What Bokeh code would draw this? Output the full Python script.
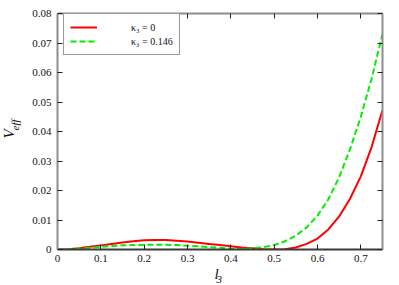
import math
from bokeh.plotting import figure
from bokeh.models import (LinearAxis, FixedTicker, Label, Legend, LegendItem, Range1d)
from bokeh.embed import file_html
from bokeh.resources import INLINE

# ---- data ----
l3 = [0.0, 0.025, 0.05, 0.075, 0.1, 0.125, 0.15, 0.175, 0.2, 0.225, 0.25,
      0.275, 0.3, 0.325, 0.35, 0.375, 0.4, 0.425, 0.45, 0.475, 0.5,
      0.525, 0.55, 0.575, 0.6, 0.625, 0.65, 0.675, 0.7, 0.725, 0.75]
v_kappa0 = [0.0, 0.0001, 0.0004, 0.0009, 0.0014, 0.0019, 0.0024, 0.0028, 0.0031, 0.0032, 0.0032,
            0.0030, 0.0027, 0.0023, 0.0019, 0.0015, 0.0011, 0.0007, 0.0004, 0.0001, 0.0,
            0.0001, 0.0007, 0.0019, 0.0037, 0.0068, 0.0112, 0.0172, 0.0248, 0.0348, 0.0473]
v_kappa146 = [0.0, 0.0001, 0.0003, 0.0006, 0.0009, 0.0012, 0.0014, 0.0015, 0.0016, 0.0016, 0.0016,
              0.0015, 0.0013, 0.0011, 0.0008, 0.0006, 0.0003, 0.0002, 0.0004, 0.0008, 0.0015,
              0.0028, 0.0047, 0.0075, 0.0115, 0.0170, 0.0245, 0.0340, 0.0450, 0.0580, 0.0730]
x_ticks = [0.0, 0.1, 0.2, 0.3, 0.4, 0.5, 0.6, 0.7]
x_tick_labels = ["0", "0.1", "0.2", "0.3", "0.4", "0.5", "0.6", "0.7"]
y_ticks = [0.0, 0.01, 0.02, 0.03, 0.04, 0.05, 0.06, 0.07, 0.08]
y_tick_labels = ["0", "0.01", "0.02", "0.03", "0.04", "0.05", "0.06", "0.07", "0.08"]
legend_labels = ["\u03ba\u2083 = 0", "\u03ba\u2083 = 0.146"]

FONT = "Liberation Serif"
GRAY = "#8c8c8c"
DARK = "#3a3a3a"

p = figure(width=390, height=284, output_backend="svg", toolbar_location=None,
           x_range=Range1d(0, 0.75), y_range=Range1d(0, 0.08),
           min_border_left=57, min_border_right=8, min_border_top=13, min_border_bottom=35,
           x_axis_location=None, y_axis_location=None)
p.outline_line_color = None
p.xgrid.visible = False
p.ygrid.visible = False
p.background_fill_color = "white"
p.border_fill_color = "white"

def style_axis(ax, color, labels=None):
    ax.axis_line_color = color
    ax.axis_line_width = 2
    ax.major_tick_in = 5
    ax.major_tick_out = 0
    ax.minor_tick_in = 0
    ax.minor_tick_out = 0
    ax.major_tick_line_color = "#222222"
    ax.major_tick_line_width = 1
    ax.major_label_text_font = FONT
    ax.major_label_text_font_size = "11px"
    ax.major_label_text_color = "#111111"
    if labels is None:
        ax.major_label_text_font_size = "0px"
        ax.major_label_text_alpha = 0
        ax.major_label_standoff = 0

xb = LinearAxis(ticker=FixedTicker(ticks=x_ticks),
                major_label_overrides=dict(zip(x_ticks, x_tick_labels)))
style_axis(xb, DARK, True)
xb.major_label_standoff = 5
p.add_layout(xb, "below")

xt = LinearAxis(ticker=FixedTicker(ticks=x_ticks))
style_axis(xt, GRAY)
p.add_layout(xt, "above")

yl = LinearAxis(ticker=FixedTicker(ticks=y_ticks),
                major_label_overrides=dict(zip(y_ticks, y_tick_labels)))
style_axis(yl, GRAY, True)
yl.major_label_standoff = 6
p.add_layout(yl, "left")

yr = LinearAxis(ticker=FixedTicker(ticks=y_ticks))
style_axis(yr, GRAY)
p.add_layout(yr, "right")

r1 = p.line(l3, v_kappa0, line_color="#ff0000", line_width=2)
r2 = p.line(l3, v_kappa146, line_color="#00ee00", line_width=2, line_dash="6 3")

legend = Legend(items=[LegendItem(label=legend_labels[0], renderers=[r1]),
                       LegendItem(label=legend_labels[1], renderers=[r2])],
                location=(6, 194), orientation="vertical",
                padding=6, spacing=0, margin=0,
                glyph_width=27, glyph_height=14, label_height=14,
                label_standoff=34,
                label_text_font=FONT, label_text_font_size="10px",
                label_text_color="#111111",
                border_line_color="#333333", border_line_width=1,
                background_fill_alpha=1.0)
p.add_layout(legend, "center")

# axis titles (italic with subscripts), placed in side panels so they are not clipped
lab_l = Label(x=157, y=7, x_units="screen", y_units="screen", text="l",
              text_font=FONT, text_font_style="italic", text_font_size="15px",
              text_color="#111111", text_baseline="alphabetic")
lab_3 = Label(x=-166, y=-30, x_units="screen", y_units="screen", text="3",
              text_font=FONT, text_font_style="italic", text_font_size="11px",
              text_color="#111111", text_baseline="alphabetic")
lab_v = Label(x=-5, y=111, x_units="screen", y_units="screen", text="V",
              angle=math.pi / 2, text_font=FONT, text_font_style="italic",
              text_font_size="15px", text_color="#111111",
              text_baseline="alphabetic", text_align="left")
lab_eff = Label(x=13, y=119, x_units="screen", y_units="screen", text="eff",
                angle=math.pi / 2, text_font=FONT, text_font_style="italic",
                text_font_size="11px", text_color="#111111",
                text_baseline="alphabetic", text_align="left")
p.add_layout(lab_l, "below")
p.add_layout(lab_3, "right")
p.add_layout(lab_v, "left")
p.add_layout(lab_eff, "left")

open("out.html", "w").write(file_html(p, INLINE))
